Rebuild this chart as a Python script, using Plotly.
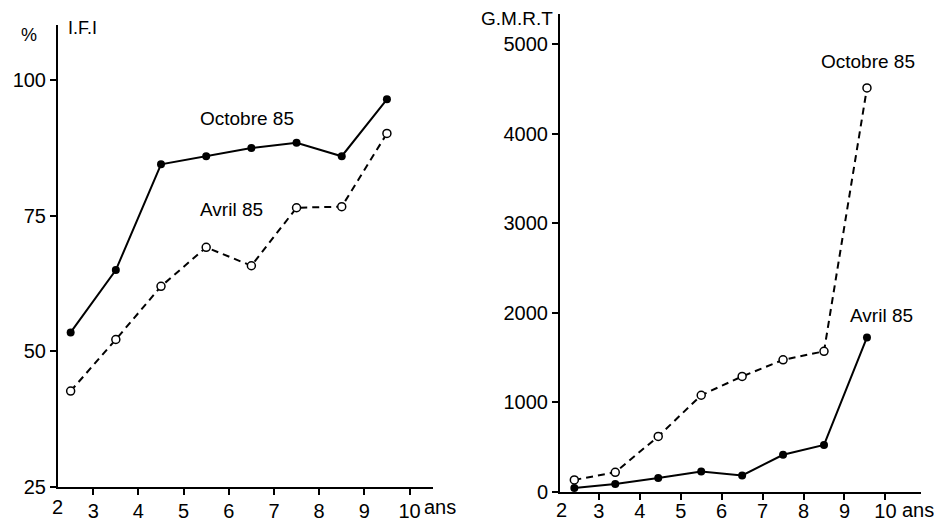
import plotly.graph_objects as go

# Left panel: I.F.I (%)
ifi_age = [2.5, 3.5, 4.5, 5.5, 6.5, 7.5, 8.5, 9.5]
ifi_octobre = [53.5, 65, 84.5, 86, 87.5, 88.5, 86, 96.5]
ifi_avril = [42.7, 52.2, 62, 69.2, 65.8, 76.5, 76.7, 90.2]

# Right panel: G.M.R.T
gmrt_age = [2.4, 3.4, 4.45, 5.5, 6.5, 7.5, 8.5, 9.55]
gmrt_octobre = [135, 220, 620, 1080, 1290, 1475, 1570, 4510]
gmrt_avril = [45, 90, 155, 230, 185, 415, 525, 1725]

left_yticks = [25, 50, 75, 100]
right_yticks = [0, 1000, 2000, 3000, 4000, 5000]
x_ticks = [3, 4, 5, 6, 7, 8, 9, 10]

FONT = "Liberation Sans, Arial, Helvetica, sans-serif"
W, H = 934, 523

fig = go.Figure()

solid = dict(color="black", width=2)
dashed = dict(color="black", width=2, dash="7px,5px")
m_fill = dict(symbol="circle", size=8, color="black")
m_open = dict(symbol="circle", size=8, color="white", line=dict(color="black", width=1.5))

fig.add_trace(go.Scatter(x=ifi_age, y=ifi_octobre, mode="lines+markers", line=solid,
                         marker=m_fill, xaxis="x", yaxis="y", showlegend=False))
fig.add_trace(go.Scatter(x=ifi_age, y=ifi_avril, mode="lines+markers", line=dashed,
                         marker=m_open, xaxis="x", yaxis="y", showlegend=False))
fig.add_trace(go.Scatter(x=gmrt_age, y=gmrt_octobre, mode="lines+markers", line=dashed,
                         marker=m_open, xaxis="x2", yaxis="y2", showlegend=False))
fig.add_trace(go.Scatter(x=gmrt_age, y=gmrt_avril, mode="lines+markers", line=solid,
                         marker=m_fill, xaxis="x2", yaxis="y2", showlegend=False))

def px_x(p):
    return p / W

def px_y(p):
    return 1 - p / H

TICK_SIZE = 20
axis_common = dict(showgrid=False, zeroline=False, showline=True, linecolor="black",
                   linewidth=2, ticks="outside", tickcolor="black", ticklen=6, tickwidth=2,
                   automargin=False,
                   tickfont=dict(family=FONT, size=TICK_SIZE, color="black"))

left_xmin, left_xmax = 2.22, 10.52
right_xmin, right_xmax = 2.05, 10.87

fig.update_layout(
    width=W, height=H,
    margin=dict(l=0, r=0, t=0, b=0, pad=0),
    paper_bgcolor="white", plot_bgcolor="white",
    xaxis=dict(domain=[px_x(58), px_x(433)], range=[left_xmin, left_xmax],
               tickvals=x_ticks, ticktext=[str(t) for t in x_ticks],
               anchor="y", ticklabelstandoff=-1, **axis_common),
    yaxis=dict(domain=[px_y(487), px_y(25)], range=[25, 110.2],
               tickvals=left_yticks, anchor="x", **axis_common),
    xaxis2=dict(domain=[px_x(560), px_x(921)], range=[right_xmin, right_xmax],
                tickvals=x_ticks, ticktext=[str(t) for t in x_ticks],
                anchor="y2", ticklabelstandoff=-6, **axis_common),
    yaxis2=dict(domain=[px_y(492), px_y(14)], range=[0, 5335],
                tickvals=right_yticks, anchor="x2", **axis_common),
)

ann_font = dict(family=FONT, size=19, color="black")
tick_font = dict(family=FONT, size=TICK_SIZE, color="black")

def ann(text, x, y, xref="paper", yref="paper", xanchor="center", font=ann_font):
    if xref == "paper":
        x = px_x(x)
    if yref == "paper":
        y = px_y(y)
    return dict(text=text, x=x, y=y, xref=xref, yref=yref, xanchor=xanchor,
                yanchor="middle", showarrow=False, font=font)

annotations = [
    ann("Octobre 85", 6.4, 93.0, "x", "y"),
    ann("Avril 85", 6.07, 76.2, "x", "y"),
    ann("Octobre 85", 9.58, 4800, "x2", "y2"),
    ann("Avril 85", 9.9, 1970, "x2", "y2"),
    ann("%", 29, 35, font=dict(family=FONT, size=18, color="black")),
    ann("I.F.I", 66, 28, xanchor="left", font=dict(family=FONT, size=18, color="black")),
    ann("G.M.R.T", 555, 18, xanchor="right", font=dict(family=FONT, size=19, color="black")),
    ann("2", 57, 507, font=tick_font),
    ann("2", 561, 510, font=tick_font),
    ann("ans", 422, 507, xanchor="left", font=tick_font),
    ann("ans", 900, 510, xanchor="left", font=tick_font),
]
fig.update_layout(annotations=annotations)

fig.write_html("out.html", config={"displayModeBar": False},
               post_script="document.body.style.margin='0';document.body.style.overflow='hidden';")
